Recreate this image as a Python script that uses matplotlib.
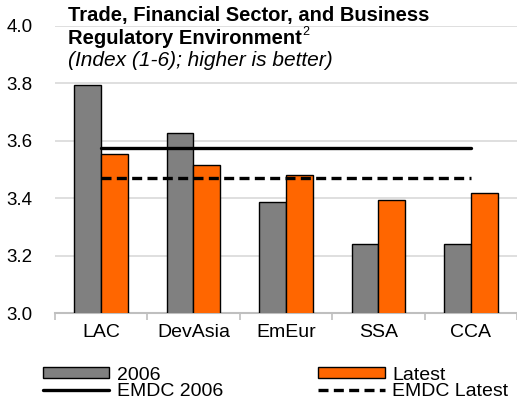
import matplotlib
matplotlib.use('Agg')
import matplotlib.pyplot as plt
import numpy as np

plt.rcParams['font.family'] = ['Liberation Sans', 'DejaVu Sans']

#Chart data
regions = ['LAC', 'DevAsia', 'EmEur', 'SSA', 'CCA']
vals_2006 = [3.795, 3.628, 3.387, 3.240, 3.240]
vals_latest = [3.553, 3.517, 3.481, 3.394, 3.418]
emdc_2006 = 3.576
emdc_latest = 3.471
yticks = [3.0, 3.2, 3.4, 3.6, 3.8, 4.0]

fig = plt.figure(figsize=(5.17, 4.0), dpi=100)
ax = fig.add_axes([0.106, 0.2175, 0.894, 0.7175])

x = np.arange(len(regions))
w = 0.29
ax.bar(x - w/2, vals_2006, w, color='#808080', edgecolor='black', linewidth=1.0, label='2006', zorder=3)
ax.bar(x + w/2, vals_latest, w, color='#ff6600', edgecolor='black', linewidth=1.0, label='Latest', zorder=3)
ax.plot([x[0], x[-1]], [emdc_2006, emdc_2006], color='black', lw=2.4, solid_capstyle='round', label='EMDC 2006', zorder=4)
ax.plot([x[0], x[-1]], [emdc_latest, emdc_latest], color='black', lw=2.4, ls=(0, (3, 1.6)), label='EMDC Latest', zorder=4)

ax.set_ylim(3.0, 4.0)
ax.set_xlim(-0.5, 4.45)
ax.set_yticks(yticks)
ax.set_yticklabels(['%.1f' % v for v in yticks], fontsize=13.5)
ax.yaxis.grid(True, color='#d9d9d9', lw=1.2, zorder=0)
ax.tick_params(axis='y', length=0, pad=16)
ax.set_xticks(x)
ax.set_xticklabels(regions, fontsize=14)
ax.set_xticks(np.arange(-0.5, 4.6, 1), minor=True)
ax.tick_params(axis='x', which='major', length=0, pad=8)
ax.tick_params(axis='x', which='minor', length=5, color='#bfbfbf', width=1.2)
for s in ['left', 'right', 'top']:
	ax.spines[s].set_visible(False)
ax.spines['bottom'].set_color('#bfbfbf')
ax.spines['bottom'].set_linewidth(1.5)

#Title block inside the plot
fig.text(0.131, 0.96, 'Trade, Financial Sector, and Business', fontsize=14.5, fontweight='bold', va='center')
t2 = fig.text(0.131, 0.905, 'Regulatory Environment', fontsize=14.5, fontweight='bold', va='center')
ax.annotate('2', xy=(1.0, 0.8), xycoords=t2, xytext=(0.3, 0), textcoords='offset points', fontsize=9, va='center', ha='left')
fig.text(0.131, 0.85, '(Index (1-6); higher is better)', fontsize=15, style='italic', va='center')

h, l = ax.get_legend_handles_labels()
order = [2, 0, 3, 1]
fig.legend([h[i] for i in order], [l[i] for i in order], ncol=2, loc='lower left',
	bbox_to_anchor=(0.057, -0.033), frameon=False, fontsize=14, handlelength=3.4,
	handleheight=0.45, labelspacing=-0.05, columnspacing=4.9, handletextpad=0.4, borderpad=0.2)

fig.savefig('out.png', dpi=100)
